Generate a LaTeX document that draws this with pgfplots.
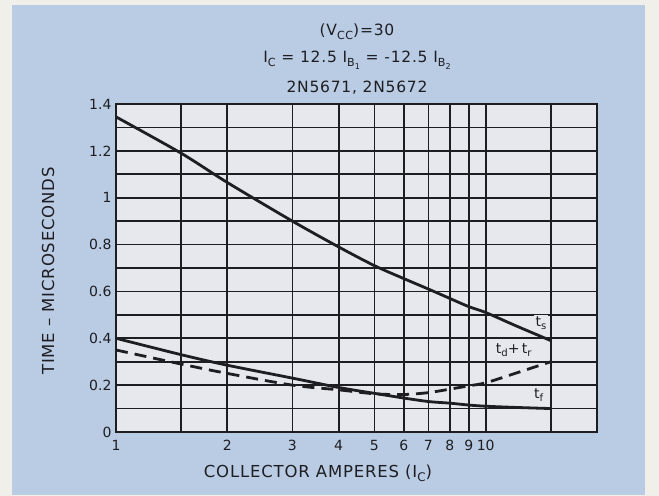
\documentclass[border=0pt]{standalone}
\usepackage{fontspec}
\usepackage{graphicx}
\setmainfont{DejaVu Sans}
\newfontfamily\lab[LetterSpace=5]{DejaVu Sans}
\usepackage{pgfplots}
\pgfplotsset{compat=1.18}
\definecolor{bgblue}{RGB}{185,204,228}
\definecolor{plotbg}{RGB}{231,232,237}
\definecolor{outer}{RGB}{240,239,234}
\definecolor{ink}{RGB}{30,30,34}
\newcommand{\sbs}[1]{\raisebox{-0.45ex}{\scalebox{0.72}{#1}}}
\begin{document}
\begin{tikzpicture}[x=1bp,y=1bp]
\useasboundingbox (0,0) rectangle (659,496);
\fill[outer] (0,0) rectangle (659,496);
\fill[bgblue] (12,1) rectangle (645,491);
\begin{axis}[
  at={(116bp,64bp)}, anchor=south west,
  width=481bp, height=328bp, scale only axis,
  xmode=log, xmin=1, xmax=20, ymin=0, ymax=1.4,
  xtick={1,1.5,2,3,4,5,6,7,8,9,10,15,20},
  xticklabels={1,{},2,3,4,5,6,7,8,9,10,{},{}},
  ytick={0,0.1,0.2,0.3,0.4,0.5,0.6,0.7,0.8,0.9,1,1.1,1.2,1.3,1.4},
  yticklabels={0,{},0.2,{},0.4,{},0.6,{},0.8,{},1,{},1.2,{},1.4},
  xminorticks=false, yminorticks=false,
  major tick length=0pt,
  grid=major,
  major grid style={ink, line width=1.8bp},
  axis line style={ink, line width=2.2bp},
  axis background/.style={fill=plotbg},
  /pgf/number format/assume math mode=true,
  ticklabel style={font=\fontsize{14bp}{16bp}\selectfont, text=ink},
  xticklabel style={yshift=-5bp},
  yticklabel style={xshift=-1bp},
  clip=false,
]
\addplot[ink, line width=2.8bp, smooth] coordinates {
 (1,1.345) (1.5,1.19) (2,1.065) (3,0.90) (4,0.79) (5,0.71) (6,0.655)
 (7,0.61) (8,0.57) (9,0.535) (10,0.51) (12,0.455) (15,0.39)};
\addplot[ink, line width=2.8bp, smooth] coordinates {
 (1,0.40) (1.5,0.33) (2,0.285) (3,0.23) (4,0.19) (5,0.165) (6,0.145)
 (7,0.13) (8,0.123) (9,0.115) (10,0.11) (12,0.105) (15,0.10)};
\addplot[ink, line width=2.8bp, smooth, dash pattern=on 12bp off 7bp] coordinates {
 (1,0.35) (1.5,0.29) (2,0.25) (3,0.20) (4,0.18) (5,0.163) (6,0.16)
 (7,0.168) (8,0.183) (9,0.197) (10,0.21) (12,0.25) (15,0.30)};
\node[fill=plotbg, inner sep=1.5bp, text=ink, font=\fontsize{14bp}{16bp}\selectfont] at (axis cs:14.1,0.465) {t\sbs{s}};
\node[fill=plotbg, inner sep=1.5bp, text=ink, font=\fontsize{14bp}{16bp}\selectfont] at (axis cs:11.9,0.35) {t\sbs{d}+\,t\sbs{r}};
\node[fill=plotbg, inner sep=1.5bp, text=ink, font=\fontsize{14bp}{16bp}\selectfont] at (axis cs:13.9,0.158) {t\sbs{f}};
\end{axis}
\begin{scope}[every node/.style={text=ink, font=\lab\fontsize{15.5bp}{18bp}\selectfont}]
\node at (357,464) {(V\sbs{CC})=30};
\node at (357,436) {I\sbs{C} = 12.5 I\sbs{B\sbs{1}} = -12.5 I\sbs{B\sbs{2}}};
\node at (357,408) {2N5671, 2N5672};
\node[font=\lab\fontsize{16.5bp}{19bp}\selectfont] at (318,23) {COLLECTOR AMPERES (I\sbs{C})};
\node[rotate=90, font=\lab\fontsize{16.5bp}{19bp}\selectfont] at (48,225) {TIME – MICROSECONDS};
\end{scope}
\end{tikzpicture}
\end{document}
